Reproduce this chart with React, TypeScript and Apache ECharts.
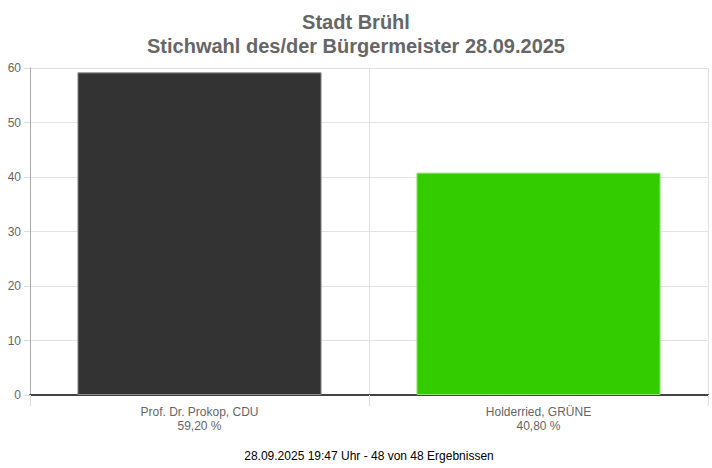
import React, { useEffect, useRef } from "react";
import * as echarts from "echarts";

const titleLines = ["Stadt Brühl", "Stichwahl des/der Bürgermeister 28.09.2025"];
const candidates = ["Prof. Dr. Prokop, CDU", "Holderried, GRÜNE"];
const percentLabels = ["59,20 %", "40,80 %"];
const values = [59.2, 40.8];
const barColors = ["#333333", "#33cc00"];
const barBorders = ["#8a8a8a", "#8fe070"];
const footer = "28.09.2025 19:47 Uhr - 48 von 48 Ergebnissen";
const yMin = 0;
const yMax = 60;
const yInterval = 10;

export default function App() {
  const ref = useRef<HTMLDivElement>(null);
  useEffect(() => {
    if (!ref.current) return;
    const chart = echarts.init(ref.current, undefined, { renderer: "svg" });
    const font = "'Liberation Sans', Arial, sans-serif";
    chart.setOption({
      animation: false,
      backgroundColor: "#ffffff",
      title: {
        text: titleLines.join("\n"),
        left: "center",
        top: 5,
        textStyle: {
          fontFamily: font,
          fontSize: 20,
          fontWeight: "bold",
          color: "#666666",
          lineHeight: 24,
        },
      },
      grid: { left: 30, right: 4, top: 68, bottom: 73, containLabel: false },
      xAxis: {
        type: "category",
        data: candidates.map((c, i) => c + "\n" + percentLabels[i]),
        boundaryGap: true,
        axisLine: { show: true, lineStyle: { color: "#444444", width: 2 } },
        axisTick: { show: true, length: 11, inside: false, lineStyle: { color: "#e0e0e0" } },
        splitLine: { show: true, lineStyle: { color: "#e0e0e0", width: 1 } },
        axisLabel: {
          fontFamily: font,
          fontSize: 12,
          color: "#666666",
          lineHeight: 14,
          margin: 10,
        },
        name: footer,
        nameLocation: "middle",
        nameGap: 55,
        nameTextStyle: { fontFamily: font, fontSize: 12, color: "#000000" },
      },
      yAxis: {
        type: "value",
        min: yMin,
        max: yMax,
        interval: yInterval,
        axisLine: { show: true, lineStyle: { color: "#aaaaaa", width: 1 } },
        axisTick: { show: true, length: 6, lineStyle: { color: "#dddddd" } },
        splitLine: { show: true, lineStyle: { color: "#e3e3e3", width: 1 } },
        axisLabel: { fontFamily: font, fontSize: 12, color: "#666666", margin: 9 },
      },
      series: [
        {
          type: "bar",
          barWidth: "72%",
          data: values.map((v, i) => ({
            value: v,
            itemStyle: { color: barColors[i], borderColor: barBorders[i], borderWidth: 1 },
          })),
          z: 1,
        },
      ],
    });
    return () => chart.dispose();
  }, []);
  return <div ref={ref} style={{ width: 712, height: 468, position: "absolute", left: 0, top: 0 }} />;
}
